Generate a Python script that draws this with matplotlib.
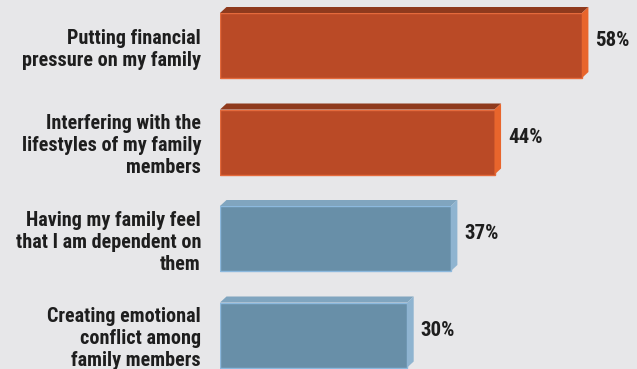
import matplotlib
matplotlib.use('Agg')
import matplotlib.pyplot as plt
from matplotlib.patches import Polygon

# Dados
categorias = [
    'Putting financial\npressure on my family',
    'Interfering with the\nlifestyles of my family\nmembers',
    'Having my family feel\nthat I am dependent on\nthem',
    'Creating emotional\nconflict among\nfamily members',
]
valores = [58, 44, 37, 30]
destaque = [True, True, False, False]  # barras laranja

# Cores (frente, topo, lateral, borda)
laranja = ('#BA4A26', '#8F3A1D', '#E8652C', '#E46A3C')
azul = ('#688FA8', '#80A5BF', '#8FB4D0', '#8CB9DE')
fundo = '#E7E7E9'

plt.rcParams['font.family'] = ['Roboto Condensed', 'Liberation Sans']

fig = plt.figure(figsize=(6.37, 3.69), dpi=100, facecolor=fundo)
ax = fig.add_axes([220 / 637, 0, 417 / 637, 1])
ax.set_facecolor(fundo)

px_x = 6.24   # pixels por ponto percentual
px_y = 96.5   # pixels entre barras
ax.set_xlim(0, 417 / px_x)
ax.set_ylim(-45.5 / px_y, (369 - 45.5) / px_y)
ax.invert_yaxis()

altura = 65 / px_y
dx = 6.5 / px_x
dy = 6.0 / px_y

pos = list(range(len(valores)))
for i, v, d in zip(pos, valores, destaque):
    frente, topo, lado, borda = laranja if d else azul
    ax.barh(i, v, height=altura, color=frente, edgecolor=borda, linewidth=1, zorder=2)
    y0 = i - altura / 2
    y1 = i + altura / 2
    ax.add_patch(Polygon([(0, y0), (v, y0), (v + dx, y0 - dy), (dx, y0 - dy)],
                         closed=True, facecolor=topo, edgecolor='none', zorder=3))
    ax.add_patch(Polygon([(v, y0), (v + dx, y0 - dy), (v + dx, y1 - dy), (v, y1)],
                         closed=True, facecolor=lado, edgecolor='none', zorder=3))
    ax.text(v + dx + 7 / px_x, i - dy / 2 - 0.02, f'{v}%', ha='left', va='center',
            fontsize=15, fontweight='bold', color='#1E1E1E', fontstretch='condensed')

ax.set_yticks(pos)
ax.set_yticklabels(categorias, fontsize=14.5, fontweight='bold', color='#1E1E1E',
                   linespacing=1.2, fontstretch='condensed')
ax.tick_params(axis='y', length=0, pad=19 * 0.72)
ax.set_xticks([])
for s in ax.spines.values():
    s.set_visible(False)

fig.savefig('out.png', dpi=100, facecolor=fundo)
